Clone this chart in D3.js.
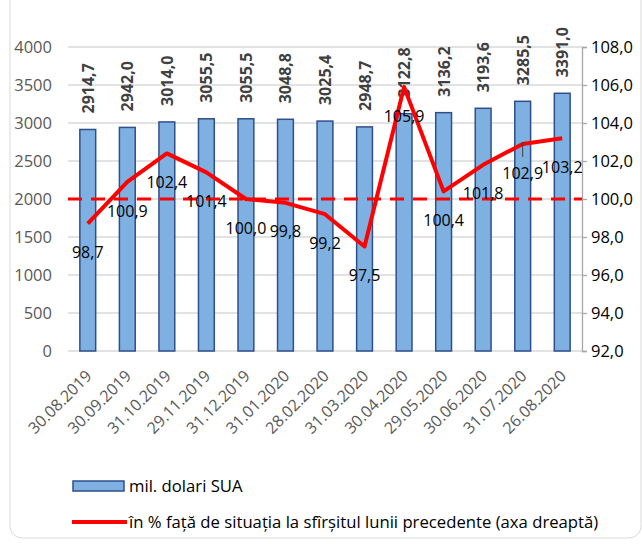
<!DOCTYPE html>
<html>
<head>
<meta charset="utf-8">
<script src="https://cdn.jsdelivr.net/npm/d3@7"></script>
<style>
  body { margin: 0; background: #fff; }
  text { font-family: "Open Sans", sans-serif; }
</style>
</head>
<body>
<svg id="chart" width="642" height="545"></svg>
<script>
// data
const dates = ["30.08.2019", "30.09.2019", "31.10.2019", "29.11.2019", "31.12.2019", "31.01.2020",
  "28.02.2020", "31.03.2020", "30.04.2020", "29.05.2020", "30.06.2020", "31.07.2020", "26.08.2020"];
const reserves = [2914.7, 2942.0, 3014.0, 3055.5, 3055.5, 3048.8, 3025.4, 2948.7, 3122.8, 3136.2, 3193.6, 3285.5, 3391.0];
const pctPrev = [98.7, 100.9, 102.4, 101.4, 100.0, 99.8, 99.2, 97.5, 105.9, 100.4, 101.8, 102.9, 103.2];
const leftTicks = [0, 500, 1000, 1500, 2000, 2500, 3000, 3500, 4000];
const rightTicks = [92, 94, 96, 98, 100, 102, 104, 106, 108];
const legendLabels = ["mil. dolari SUA", "în % față de situația la sfîrșitul lunii precedente (axa dreaptă)"];

const svg = d3.select("#chart");
const comma1 = (v) => d3.format(".1f")(v).replace(".", ",");

const pLeft = 68, pRight = 582, pTop = 47, pBottom = 351;

// outer frame
svg.append("rect")
  .attr("x", 10).attr("y", -20)
  .attr("width", 631).attr("height", 558)
  .attr("rx", 12)
  .attr("fill", "none")
  .attr("stroke", "#d9d9d9")
  .attr("stroke-width", 1);

const x = d3.scaleBand().domain(dates).range([pLeft, pRight]).paddingInner(0.6).paddingOuter(0.3);
const y = d3.scaleLinear().domain([0, 4000]).range([pBottom, pTop]);
const y2 = d3.scaleLinear().domain([92, 108]).range([pBottom, pTop]);

// gridlines
svg.append("g")
  .selectAll("line")
  .data(leftTicks)
  .enter()
  .append("line")
  .attr("x1", pLeft).attr("x2", pRight)
  .attr("y1", (d) => y(d)).attr("y2", (d) => y(d))
  .attr("stroke", "#d9d9d9")
  .attr("stroke-width", 1.3);

// left axis (labels only)
const yAxis = svg.append("g")
  .attr("transform", `translate(${pLeft - 16},0)`)
  .call(d3.axisLeft(y).tickValues(leftTicks).tickSize(0).tickPadding(0).tickFormat(d3.format("d")));
yAxis.select(".domain").remove();
yAxis.selectAll("text")
  .attr("font-size", 16.5)
  .attr("fill", "#595959")
  .attr("dy", "0.35em");

// right axis
const yAxis2 = svg.append("g")
  .attr("transform", `translate(${pRight},0)`)
  .call(d3.axisRight(y2).tickValues(rightTicks).tickSize(5).tickPadding(4).tickFormat(comma1));
yAxis2.select(".domain").attr("stroke", "#a6a6a6").attr("stroke-width", 1.3);
yAxis2.selectAll(".tick line").attr("stroke", "#a6a6a6").attr("stroke-width", 1.3);
yAxis2.selectAll("text")
  .attr("font-size", 16.5)
  .attr("fill", "#000")
  .attr("dy", "0.35em");

// bars
svg.append("g")
  .selectAll("rect")
  .data(reserves)
  .enter()
  .append("rect")
  .attr("x", (d, i) => x(dates[i]))
  .attr("y", (d) => y(d))
  .attr("width", x.bandwidth())
  .attr("height", (d) => y(0) - y(d))
  .attr("fill", "#7eb1e2")
  .attr("stroke", "#2f4f8a")
  .attr("stroke-width", 1.5);

// x labels
svg.append("g")
  .selectAll("text")
  .data(dates)
  .enter()
  .append("text")
  .attr("transform", (d) => `translate(${x(d) + x.bandwidth() / 2 + 5},${pBottom + 26}) rotate(-45)`)
  .attr("text-anchor", "end")
  .attr("font-size", 16)
  .attr("fill", "#595959")
  .text((d) => d);

// bar value labels
svg.append("g")
  .selectAll("text")
  .data(reserves)
  .enter()
  .append("text")
  .attr("transform", (d, i) => `translate(${x(dates[i]) + x.bandwidth() / 2 + 6},${y(d) - 16}) rotate(-90)`)
  .attr("text-anchor", "start")
  .attr("font-size", 16)
  .attr("font-weight", "bold")
  .attr("fill", "#404040")
  .text((d) => comma1(d));

// 100% reference line
svg.append("line")
  .attr("x1", pLeft).attr("x2", pRight)
  .attr("y1", y2(100)).attr("y2", y2(100))
  .attr("stroke", "#ff0000")
  .attr("stroke-width", 3)
  .attr("stroke-dasharray", "14,9");

// percent line
const line = d3.line()
  .x((d, i) => x(dates[i]) + x.bandwidth() / 2)
  .y((d) => y2(d));
svg.append("path")
  .datum(pctPrev)
  .attr("d", line)
  .attr("fill", "none")
  .attr("stroke", "#ff0000")
  .attr("stroke-width", 4)
  .attr("stroke-linejoin", "round");

// leader for 102,9
svg.append("line")
  .attr("x1", x(dates[11]) + x.bandwidth() / 2).attr("x2", x(dates[11]) + x.bandwidth() / 2)
  .attr("y1", y2(pctPrev[11]) - 2).attr("y2", y2(pctPrev[11]) + 13)
  .attr("stroke", "#404040")
  .attr("stroke-width", 1);

// percent labels
svg.append("g")
  .selectAll("text")
  .data(pctPrev)
  .enter()
  .append("text")
  .attr("x", (d, i) => x(dates[i]) + x.bandwidth() / 2)
  .attr("y", (d) => y2(d) + 29)
  .attr("dy", "0.35em")
  .attr("text-anchor", "middle")
  .attr("font-size", 16)
  .attr("fill", "#000")
  .text((d) => comma1(d));

// legend
const lg = svg.append("g");
lg.append("rect")
  .attr("x", 73).attr("y", 481)
  .attr("width", 51).attr("height", 10)
  .attr("fill", "#7eb1e2")
  .attr("stroke", "#2f4f8a")
  .attr("stroke-width", 1.5);
lg.append("text")
  .attr("x", 129).attr("y", 486)
  .attr("dy", "0.35em")
  .attr("font-size", 16.7)
  .attr("fill", "#000")
  .text(legendLabels[0]);
lg.append("line")
  .attr("x1", 72).attr("x2", 127)
  .attr("y1", 522).attr("y2", 522)
  .attr("stroke", "#ff0000")
  .attr("stroke-width", 4);
lg.append("text")
  .attr("x", 129).attr("y", 522)
  .attr("dy", "0.35em")
  .attr("font-size", 16.7)
  .attr("fill", "#000")
  .text(legendLabels[1]);
</script>
</body>
</html>
